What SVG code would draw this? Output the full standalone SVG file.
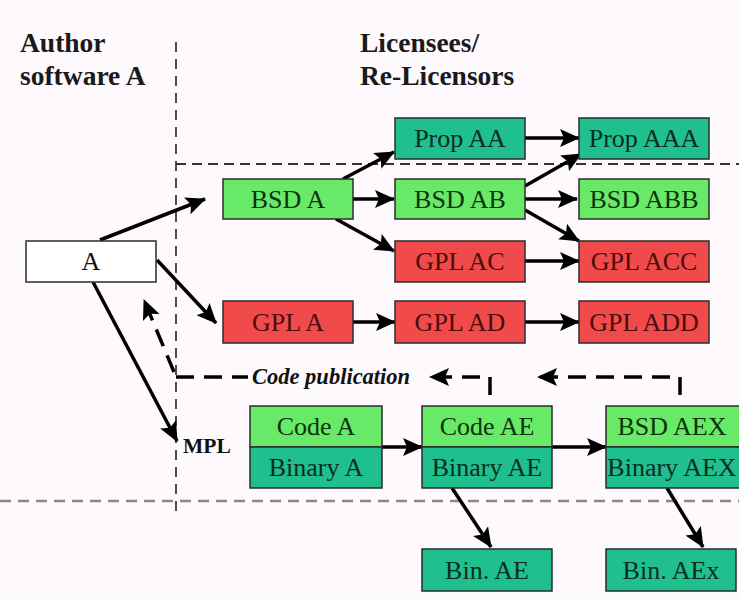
<svg xmlns="http://www.w3.org/2000/svg" width="739" height="601" viewBox="0 0 739 601">
  <defs>
    <marker id="head" markerUnits="userSpaceOnUse" markerWidth="20" markerHeight="18" viewBox="0 0 20 18" refX="19" refY="9" orient="auto">
      <path d="M0,0 L20,9 L0,18 L4,9 Z" fill="#000"/>
    </marker>
    <style>
      .bg { fill: #fdf9fd; }
      .box { stroke: #2b2b2b; stroke-width: 1.5; }
      .green { fill: #68ea68; }
      .teal { fill: #1fbf8e; }
      .red { fill: #f04a4a; }
      .white { fill: #ffffff; }
      .serif { font-family: "Liberation Serif", "DejaVu Serif", "Times New Roman", serif; }
      .label { font-size: 26px; text-anchor: middle; }
      .tg { fill: #0c330c; }
      .tt { fill: #0a2c22; }
      .tr { fill: #4a0c0c; }
      .head { font-size: 27.5px; font-weight: bold; fill: #1a1a1a; }
      .arrow { stroke: #000; stroke-width: 3.5; fill: none; marker-end: url(#head); }
      .pub { stroke: #000; stroke-width: 3.5; fill: none; stroke-dasharray: 18 10; }
    </style>
  </defs>

  <rect class="bg" x="0" y="0" width="739" height="601"/>

  <!-- region separators -->
  <g id="separators" fill="none">
    <line x1="176" y1="42" x2="176" y2="517" stroke="#222" stroke-width="1.6" stroke-dasharray="10 7"/>
    <line x1="176" y1="164" x2="739" y2="164" stroke="#333" stroke-width="2.2" stroke-dasharray="10 6"/>
    <line x1="0" y1="501" x2="739" y2="501" stroke="#8a8a8a" stroke-width="2.5" stroke-dasharray="11 7"/>
  </g>

  <!-- column headings -->
  <g id="headings" class="serif">
    <text class="head" x="20" y="52">Author</text>
    <text class="head" x="20" y="85">software A</text>
    <text class="head" x="360" y="52">Licensees/</text>
    <text class="head" x="360" y="85">Re-Licensors</text>
  </g>

  <!-- connectors -->
  <g id="connectors">
    <line class="arrow" x1="100" y1="240" x2="205" y2="199"/>
    <line class="arrow" x1="157" y1="260" x2="216" y2="323"/>
    <line class="arrow" x1="93" y1="282" x2="177" y2="441"/>
    <path class="pub" d="M174,372 L144,300" marker-end="url(#head)" stroke-dasharray="16 9"/>

    <line class="arrow" x1="343" y1="179" x2="394" y2="152"/>
    <line class="arrow" x1="353" y1="199" x2="394" y2="199"/>
    <line class="arrow" x1="336" y1="219" x2="394" y2="251"/>
    <line class="arrow" x1="353" y1="322" x2="395" y2="322"/>

    <line class="arrow" x1="525" y1="138" x2="579" y2="138"/>
    <line class="arrow" x1="525" y1="186" x2="581" y2="154"/>
    <line class="arrow" x1="525" y1="199" x2="577" y2="199"/>
    <line class="arrow" x1="525" y1="210" x2="579" y2="241"/>
    <line class="arrow" x1="525" y1="261" x2="579" y2="261"/>
    <line class="arrow" x1="525" y1="322" x2="579" y2="322"/>

    <line class="arrow" x1="382" y1="447" x2="422" y2="447"/>
    <line class="arrow" x1="552" y1="447" x2="606" y2="447"/>
    <line class="arrow" x1="452" y1="488" x2="491" y2="547"/>
    <line class="arrow" x1="667" y1="488" x2="703" y2="547"/>

    <!-- code publication feedback -->
    <path class="pub" d="M176,377 L248,377"/>
    <path class="pub" d="M490,395 L490,377 L430,377" marker-end="url(#head)"/>
    <path class="pub" d="M680,395 L680,377 L538,377" marker-end="url(#head)"/>
    <text class="serif" x="252" y="384" font-size="22.5" font-weight="bold" font-style="italic" fill="#111">Code publication</text>
    <text class="serif" x="183" y="453" font-size="21.5" font-weight="bold" fill="#111">MPL</text>
  </g>

  <!-- nodes -->
  <g class="serif">
    <g id="node-A">
      <rect class="box white" x="26" y="241" width="130" height="41"/>
      <text class="label" x="91" y="270" fill="#111">A</text>
    </g>
    <g id="node-bsd-a">
      <rect class="box green" x="223" y="179" width="130" height="40"/>
      <text class="label tg" x="288" y="208">BSD A</text>
    </g>
    <g id="node-gpl-a">
      <rect class="box red" x="223" y="301" width="130" height="42"/>
      <text class="label tr" x="288" y="331">GPL A</text>
    </g>
    <g id="node-prop-aa">
      <rect class="box teal" x="395" y="118" width="130" height="41"/>
      <text class="label tt" x="460" y="147">Prop AA</text>
    </g>
    <g id="node-prop-aaa">
      <rect class="box teal" x="579" y="118" width="130" height="41"/>
      <text class="label tt" x="644" y="147">Prop AAA</text>
    </g>
    <g id="node-bsd-ab">
      <rect class="box green" x="395" y="179" width="130" height="40"/>
      <text class="label tg" x="460" y="208">BSD AB</text>
    </g>
    <g id="node-bsd-abb">
      <rect class="box green" x="579" y="179" width="130" height="40"/>
      <text class="label tg" x="644" y="208">BSD ABB</text>
    </g>
    <g id="node-gpl-ac">
      <rect class="box red" x="395" y="241" width="130" height="41"/>
      <text class="label tr" x="460" y="270">GPL AC</text>
    </g>
    <g id="node-gpl-acc">
      <rect class="box red" x="579" y="241" width="130" height="41"/>
      <text class="label tr" x="644" y="270">GPL ACC</text>
    </g>
    <g id="node-gpl-ad">
      <rect class="box red" x="395" y="301" width="130" height="42"/>
      <text class="label tr" x="460" y="331">GPL AD</text>
    </g>
    <g id="node-gpl-add">
      <rect class="box red" x="579" y="301" width="130" height="42"/>
      <text class="label tr" x="644" y="331">GPL ADD</text>
    </g>

    <g id="node-code-a">
      <rect class="box green" x="250" y="406" width="132" height="41"/>
      <rect class="box teal" x="250" y="447" width="132" height="41"/>
      <text class="label tg" x="316" y="435">Code A</text>
      <text class="label tt" x="316" y="476">Binary A</text>
    </g>
    <g id="node-code-ae">
      <rect class="box green" x="422" y="406" width="130" height="41"/>
      <rect class="box teal" x="422" y="447" width="130" height="41"/>
      <text class="label tg" x="487" y="435">Code AE</text>
      <text class="label tt" x="487" y="476">Binary AE</text>
    </g>
    <g id="node-bsd-aex">
      <rect class="box green" x="606" y="406" width="140" height="41"/>
      <rect class="box teal" x="606" y="447" width="140" height="41"/>
      <text class="label tg" x="672" y="435">BSD AEX</text>
      <text class="label tt" x="672" y="476">Binary AEX</text>
    </g>
    <g id="node-bin-ae">
      <rect class="box teal" x="422" y="549" width="130" height="42"/>
      <text class="label tt" x="487" y="579">Bin. AE</text>
    </g>
    <g id="node-bin-aex">
      <rect class="box teal" x="606" y="549" width="130" height="42"/>
      <text class="label tt" x="671" y="579">Bin. AEx</text>
    </g>
  </g>
</svg>
